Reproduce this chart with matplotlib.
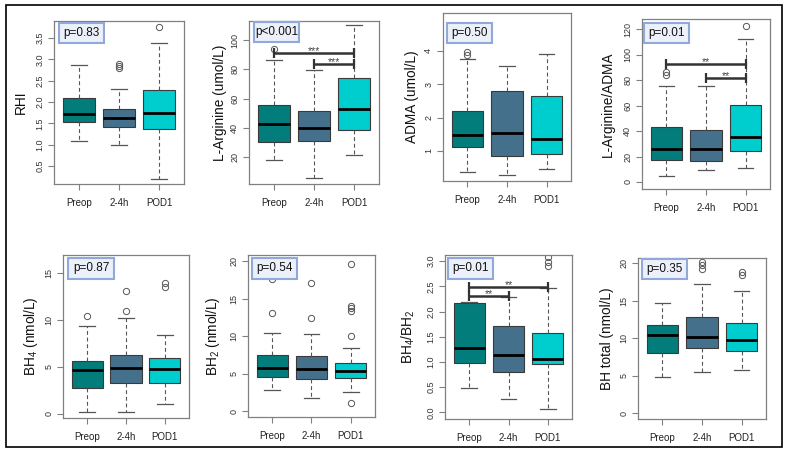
import matplotlib
matplotlib.use("Agg")
import matplotlib.pyplot as plt
from matplotlib.patches import Rectangle

plt.rcParams['font.family'] = ['Liberation Sans', 'DejaVu Sans']
plt.rcParams['mathtext.fontset'] = 'custom'
plt.rcParams['mathtext.rm'] = 'Liberation Sans'
plt.rcParams['mathtext.it'] = 'Liberation Sans:italic'

# ---------------- data ----------------
groups = ['Preop', '2-4h', 'POD1']
group_colors = ['#037C7C', '#45708C', '#00CDCD']

# five-number summaries per group: [whisker low, Q1, median, Q3, whisker high]
rhi_box = [[1.08, 1.53, 1.71, 2.09, 2.87], [1.00, 1.41, 1.63, 1.83, 2.30], [0.20, 1.37, 1.75, 2.29, 3.39]]
rhi_fliers = [[], [2.79, 2.84, 2.90], [3.77]]

larg_box = [[17.7, 30.3, 42.4, 55.4, 86.3], [5.1, 31.0, 39.9, 51.3, 79.9], [20.9, 38.7, 52.5, 74.2, 110.3]]
larg_fliers = [[94.3], [], []]

adma_box = [[0.36, 1.12, 1.47, 2.19, 3.75], [0.29, 0.84, 1.55, 2.80, 3.53], [0.47, 0.92, 1.35, 2.64, 3.91]]
adma_fliers = [[3.87, 3.97], [], []]

ratio_box = [[4.7, 17.0, 26.2, 43.1, 75.6], [9.4, 16.5, 25.7, 41.0, 75.6], [11.3, 24.1, 35.0, 60.2, 112.4]]
ratio_fliers = [[84.0, 86.4], [], [122.6]]

bh4_box = [[0.21, 2.74, 4.63, 5.63, 9.37], [0.25, 3.24, 4.92, 6.27, 10.22], [1.07, 3.24, 4.81, 5.99, 8.44]]
bh4_fliers = [[10.44], [10.9, 13.08], [13.5, 13.9]]

bh2_box = [[2.84, 4.49, 5.69, 7.47, 10.4], [1.69, 4.22, 5.56, 7.38, 10.27], [2.58, 4.40, 5.29, 6.40, 8.40]]
bh2_fliers = [[13.07, 17.6], [12.4, 17.07], [1.02, 10.0, 13.4, 13.75, 14.05, 19.56]]

bhr_box = [[0.49, 0.97, 1.27, 2.16, 2.18], [0.27, 0.80, 1.13, 1.71, 2.28], [0.07, 0.96, 1.06, 1.57, 2.47]]
bhr_fliers = [[], [], [2.90, 2.98, 3.09]]

bht_box = [[4.83, 8.07, 10.38, 11.70, 14.68], [5.54, 8.65, 10.15, 12.77, 17.25], [5.72, 8.29, 9.70, 12.06, 16.27]]
bht_fliers = [[], [19.2, 19.7, 20.2], [18.4, 18.8]]

y_labels = ['RHI', 'L-Arginine (umol/L)', 'ADMA (umol/L)', 'L-Arginine/ADMA',
            'BH$_4$ (nmol/L)', 'BH$_2$ (nmol/L)', 'BH$_4$/BH$_2$', 'BH total (nmol/L)']
p_values = ['p=0.83', 'p<0.001', 'p=0.50', 'p=0.01', 'p=0.87', 'p=0.54', 'p=0.01', 'p=0.35']

# significance bars: (group from, group to, height, label)
larg_sig = [(1, 3, 91.5, '***'), (2, 3, 84.0, '***')]
ratio_sig = [(1, 3, 92.4, '**'), (2, 3, 81.9, '**')]
bhr_sig = [(1, 3, 2.49, '**'), (1, 2, 2.31, '**')]

y_limits = [(0.08, 3.9), (1.3, 113.3), (0.10, 5.13), (-5.5, 127.9),
            (-0.43, 16.9), (-0.8, 20.8), (-0.13, 3.12), (-0.8, 20.7)]
y_ticks = [[0.5, 1.0, 1.5, 2.0, 2.5, 3.0, 3.5], [20, 40, 60, 80, 100], [1, 2, 3, 4],
           [0, 20, 40, 60, 80, 100, 120], [0, 5, 10, 15], [0, 5, 10, 15, 20],
           [0.0, 0.5, 1.0, 1.5, 2.0, 2.5, 3.0], [0, 5, 10, 15, 20]]
y_tick_fmt = ['{:.1f}', '{:.0f}', '{:.0f}', '{:.0f}', '{:.0f}', '{:.0f}', '{:.1f}', '{:.0f}']

panel_boxes = [rhi_box, larg_box, adma_box, ratio_box, bh4_box, bh2_box, bhr_box, bht_box]
panel_fliers = [rhi_fliers, larg_fliers, adma_fliers, ratio_fliers, bh4_fliers, bh2_fliers, bhr_fliers, bht_fliers]
panel_sigs = [[], larg_sig, [], ratio_sig, [], [], bhr_sig, []]

# ---------------- layout (pixels) ----------------
W, H = 787, 453
axes_px = [(54, 21, 184, 184), (249, 21, 379, 184), (443, 13, 571, 181), (642, 19, 770, 189),
           (63, 255, 189, 418), (248, 255, 375, 417), (445, 255, 572, 419), (638, 258, 766, 419)]
pbox_px = [(59, 23, 104, 43), (254, 22, 299, 42), (447, 23, 492, 43), (644, 23, 689, 43),
           (68, 258, 114, 279), (252, 258, 297, 279), (448, 258, 493, 279), (642, 259, 687, 279)]
ylabel_off = [26, 22, 24, 27, 23, 26, 28, 24]

fig = plt.figure(figsize=(W / 100, H / 100), dpi=100)

for i in range(8):
    l, t, r, b = axes_px[i]
    ax = fig.add_axes([l / W, 1 - b / H, (r - l) / W, (b - t) / H])
    stats = []
    for bx, fl, name in zip(panel_boxes[i], panel_fliers[i], groups):
        stats.append(dict(whislo=bx[0], q1=bx[1], med=bx[2], q3=bx[3], whishi=bx[4],
                          fliers=fl, label=name))
    bp = ax.bxp(stats, positions=[1, 2, 3], widths=0.8, patch_artist=True, showfliers=True,
                boxprops=dict(edgecolor='#3a3a3a', linewidth=0.8),
                medianprops=dict(color='black', linewidth=2.0, solid_capstyle='butt'),
                whiskerprops=dict(color='#555555', linestyle=(0, (3.5, 2.5)), linewidth=0.8),
                capprops=dict(color='#555555', linewidth=0.9), capwidths=0.4,
                flierprops=dict(marker='o', markerfacecolor='none', markeredgecolor='#555555',
                                markersize=4.5, markeredgewidth=0.7))
    for patch, c in zip(bp['boxes'], group_colors):
        patch.set_facecolor(c)

    for (g1, g2, yv, lab) in panel_sigs[i]:
        ax.plot([g1, g2], [yv, yv], color='#333333', lw=1.8, marker='|',
                markersize=7, markeredgewidth=1.6, solid_capstyle='butt', zorder=5)
        ax.annotate(lab, xy=((g1 + g2) / 2, yv), xytext=(0, -0.8), textcoords='offset points',
                    ha='center', va='baseline', fontsize=7.5, color='#444444', zorder=5)

    ax.set_xlim(0.38, 3.62)
    ax.set_ylim(*y_limits[i])
    ax.set_yticks(y_ticks[i])
    ax.set_yticklabels([y_tick_fmt[i].format(v) for v in y_ticks[i]], rotation=90, va='center')
    ax.set_xticks([1, 2, 3])
    ax.set_xticklabels(groups)
    for s in ax.spines.values():
        s.set_color('#808080')
        s.set_linewidth(0.9)
    ax.tick_params(axis='both', direction='out', length=4, width=0.8, color='#808080')
    ax.tick_params(axis='y', labelsize=6.5, labelcolor='#333333', pad=3)
    ax.tick_params(axis='x', labelsize=7, labelcolor='#222222', pad=6)
    ax.set_ylabel(y_labels[i], fontsize=9.8, color='#111111')
    ax.yaxis.set_label_coords(-ylabel_off[i] / (r - l), 0.5)

    x0, y0, x1, y1 = pbox_px[i]
    fig.add_artist(Rectangle((x0 / W, 1 - y1 / H), (x1 - x0) / W, (y1 - y0) / H,
                             transform=fig.transFigure, facecolor='#EBF0FA',
                             edgecolor='#90A9DA', linewidth=1.5, zorder=10))
    fig.text((x0 + x1) / 2 / W, 1 - (y0 + y1) / 2 / H, p_values[i], ha='center', va='center',
             fontsize=8.5, color='#111111', zorder=11)

fig.add_artist(Rectangle((6 / W, 1 - 447 / H), 776 / W, 442 / H, transform=fig.transFigure,
                         fill=False, edgecolor='black', linewidth=1.2, zorder=12))

fig.savefig('out.png', dpi=100)
